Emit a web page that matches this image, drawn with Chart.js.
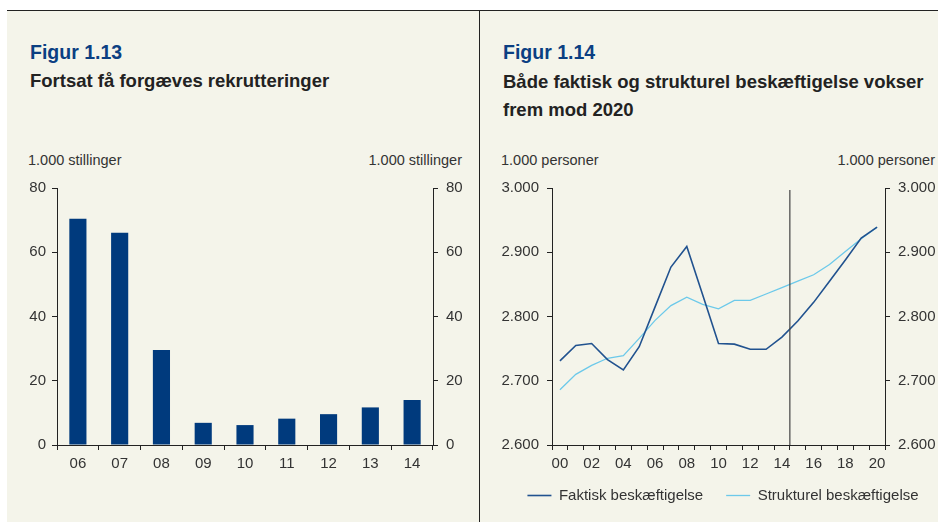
<!DOCTYPE html>
<html>
<head>
<meta charset="utf-8">
<script src="https://cdn.jsdelivr.net/npm/chart.js@4.4.1/dist/chart.umd.min.js"></script>
<style>
    body { margin: 0; width: 938px; height: 522px; overflow: hidden; background: #fff; position: relative; font-family: "Liberation Sans", Arial, sans-serif; }
    .panel { position: absolute; top: 11px; height: 511px; background: #f4f4ea; }
    .abs { position: absolute; white-space: nowrap; }
    .fig { font-size: 19.5px; font-weight: bold; color: #0b3f82; }
    .sub { font-size: 18.5px; font-weight: bold; color: #222; line-height: 28px; }
    .unit { font-size: 14.5px; color: #333; }
    canvas { position: absolute; }
</style>
</head>
<body>
<div class="panel" style="left:7px; width:472px;"></div>
<div class="panel" style="left:480px; width:458px;"></div>
<div class="abs" style="left:7px; top:10px; width:931px; height:1px; background:#222;"></div>
<div class="abs" style="left:479px; top:10px; width:1px; height:512px; background:#222;"></div>

<div class="abs fig" style="left:30px; top:41px;">Figur 1.13</div>
<div class="abs sub" style="left:30px; top:67px;">Fortsat få forgæves rekrutteringer</div>
<div class="abs unit" style="left:28px; top:152px;">1.000 stillinger</div>
<div class="abs unit" style="right:476px; top:152px;">1.000 stillinger</div>

<div class="abs fig" style="left:503px; top:41px;">Figur 1.14</div>
<div class="abs sub" style="left:503px; top:68px;">Både faktisk og strukturel beskæftigelse vokser<br>frem mod 2020</div>
<div class="abs unit" style="left:501px; top:152px;">1.000 personer</div>
<div class="abs unit" style="right:3px; top:152px;">1.000 personer</div>

<canvas id="bar-chart" width="480" height="310" style="left:0; top:170px;"></canvas>
<canvas id="line-chart" width="486" height="353" style="left:480px; top:170px;"></canvas>

<script>
const barYears = ['06', '07', '08', '09', '10', '11', '12', '13', '14'];
const vacancies = [70.4, 66.1, 29.6, 6.9, 6.2, 8.2, 9.6, 11.7, 14.0];

const lineYears = ['00', '01', '02', '03', '04', '05', '06', '07', '08', '09', '10',
                   '11', '12', '13', '14', '15', '16', '17', '18', '19', '20'];
const actualEmployment = [2731, 2755, 2758, 2733, 2717, 2753, 2815, 2877, 2909, 2834, 2758,
                          2757, 2749, 2749, 2768, 2793, 2822, 2855, 2888, 2922, 2939];
const structuralEmployment = [2686, 2710, 2724, 2735, 2739, 2766, 2794, 2817, 2830, 2819, 2812,
                              2825, 2825, 2835, 2845, 2855, 2865, 2881, 2901, 2921, 2939];
const forecastStart = 14;

Chart.defaults.font.family = '"Liberation Sans", Arial, sans-serif';
Chart.defaults.font.size = 15;
Chart.defaults.color = '#333';

const tickGrid = { drawOnChartArea: false, drawTicks: true, tickLength: 5, color: '#222' };
const axisBorder = { display: true, color: '#222', width: 1 };

const fixWidth = w => axis => { axis.width = w; };
const fixHeight = h => axis => { axis.height = h; };

const danish = v => {
    const s = String(Math.round(v));
    return s.length > 3 ? s.slice(0, -3) + '.' + s.slice(-3) : s;
};

new Chart(document.getElementById('bar-chart'), {
    type: 'bar',
    data: {
        labels: barYears,
        datasets: [{
            label: 'Forgæves rekrutteringer',
            data: vacancies,
            backgroundColor: '#003a7d',
            barPercentage: 0.41,
            categoryPercentage: 1
        }]
    },
    options: {
        responsive: false,
        animation: false,
        layout: { padding: { top: 18, left: 0, right: 0, bottom: 0 } },
        plugins: { legend: { display: false }, tooltip: { enabled: false } },
        scales: {
            x: {
                grid: Object.assign({ offset: true }, tickGrid),
                border: axisBorder,
                ticks: { padding: 5 },
                afterFit: fixHeight(35)
            },
            y: {
                position: 'left',
                min: 0, max: 80,
                ticks: { stepSize: 20, padding: 6 },
                grid: tickGrid,
                border: axisBorder,
                afterFit: fixWidth(57)
            },
            y2: {
                position: 'right',
                min: 0, max: 80,
                ticks: { stepSize: 20, padding: 8 },
                grid: tickGrid,
                border: axisBorder,
                afterFit: fixWidth(47)
            }
        }
    }
});

// vertical line marking where the forecast starts
const forecastLine = {
    id: 'forecastLine',
    afterDatasetsDraw(chart) {
        const x = chart.scales.x;
        const area = chart.chartArea;
        const px = (x.getPixelForValue(forecastStart) + x.getPixelForValue(forecastStart + 1)) / 2;
        const ctx = chart.ctx;
        ctx.save();
        ctx.strokeStyle = '#444';
        ctx.lineWidth = 1.2;
        ctx.beginPath();
        ctx.moveTo(px, area.top + 2);
        ctx.lineTo(px, area.bottom);
        ctx.stroke();
        ctx.restore();
    }
};

// pull the legend up closer to the axis labels
const liftLegend = {
    id: 'liftLegend',
    afterLayout(chart) {
        chart.legend.top -= 10;
        chart.legend.bottom -= 10;
    }
};

new Chart(document.getElementById('line-chart'), {
    type: 'line',
    data: {
        labels: lineYears,
        datasets: [{
            label: 'Faktisk beskæftigelse',
            data: actualEmployment,
            borderColor: '#21528f',
            backgroundColor: '#21528f',
            borderWidth: 1.6,
            pointRadius: 0,
            pointStyle: 'line',
            tension: 0
        }, {
            label: 'Strukturel beskæftigelse',
            data: structuralEmployment,
            borderColor: '#6cc9ea',
            backgroundColor: '#6cc9ea',
            borderWidth: 1.3,
            pointRadius: 0,
            pointStyle: 'line',
            tension: 0
        }]
    },
    options: {
        responsive: false,
        animation: false,
        layout: { padding: { top: 18, left: 0, right: 0, bottom: 0 } },
        plugins: {
            tooltip: { enabled: false },
            legend: {
                position: 'bottom',
                labels: {
                    usePointStyle: true,
                    pointStyleWidth: 24,
                    padding: 23,
                    color: '#333',
                    font: { size: 15 }
                }
            }
        },
        scales: {
            x: {
                offset: true,
                grid: Object.assign({ offset: true }, tickGrid),
                border: axisBorder,
                ticks: {
                    padding: 5,
                    autoSkip: false,
                    maxRotation: 0,
                    callback: (v, i) => (i % 2 === 0 ? lineYears[i] : '')
                },
                afterFit: fixHeight(30)
            },
            y: {
                position: 'left',
                min: 2600, max: 3000,
                ticks: { stepSize: 100, padding: 8, callback: danish },
                grid: tickGrid,
                border: axisBorder,
                afterFit: fixWidth(72)
            },
            y2: {
                position: 'right',
                min: 2600, max: 3000,
                ticks: { stepSize: 100, padding: 8, callback: danish },
                grid: tickGrid,
                border: axisBorder,
                afterFit: fixWidth(81)
            }
        }
    },
    plugins: [forecastLine, liftLegend]
});
</script>
</body>
</html>
